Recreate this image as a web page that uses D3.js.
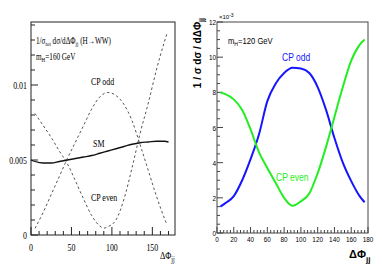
<!DOCTYPE html>
<html>
<head>
<meta charset="utf-8">
<script src="https://cdn.jsdelivr.net/npm/d3@7"></script>
<style>
  body { margin: 0; background: #fff; }
  svg { display: block; }
  .serif { font-family: "Liberation Serif", "DejaVu Serif", serif; }
  .sans { font-family: "Liberation Sans", Arial, sans-serif; }
</style>
</head>
<body>
<svg id="plot" width="382" height="273" viewBox="0 0 382 273"></svg>
<script>
// ---- left panel data (units of 1e-3) ----
const leftEvenX = [5, 15, 25, 35, 45, 55, 65, 75, 85, 90, 95, 105, 115, 125, 135, 145, 155, 165, 168];
const leftEvenY = [8.1, 7.3, 6.5, 5.6, 4.75, 3.6, 2.4, 1.3, 0.6, 0.46, 0.55, 1.0, 2.4, 4.5, 6.8, 8.8, 11.0, 12.9, 13.4];
const leftOddX = [5, 15, 25, 35, 45, 55, 65, 75, 85, 95, 105, 115, 125, 135, 145, 155, 165, 168];
const leftOddY = [0.45, 1.5, 2.7, 3.9, 5.1, 6.2, 7.3, 8.4, 9.2, 9.5, 9.3, 8.7, 7.6, 6.0, 4.3, 2.6, 1.1, 0.7];
const leftSmX = [0, 5, 15, 25, 35, 45, 55, 65, 75, 85, 95, 105, 115, 125, 135, 145, 155, 165, 170];
const leftSmY = [5.0, 4.9, 4.8, 4.8, 4.9, 5.0, 5.1, 5.2, 5.3, 5.45, 5.6, 5.75, 5.9, 6.05, 6.15, 6.2, 6.25, 6.25, 6.2];
const leftYTickLabels = [[0, "0"], [0.005, "0.005"], [0.01, "0.01"]];
const leftXTickLabels = [0, 50, 100, 150];

// ---- right panel data (units of 1e-3) ----
const rightX = [4, 10, 20, 30, 40, 50, 60, 70, 80, 90, 100, 110, 120, 130, 140, 150, 160, 170, 176];
const rightOdd = [1.5, 1.7, 2.1, 3.0, 4.2, 5.6, 7.5, 8.5, 9.1, 9.4, 9.35, 9.1, 8.3, 7.0, 5.4, 4.0, 2.95, 2.1, 1.75];
const rightEven = [8.0, 7.9, 7.6, 7.0, 5.9, 4.6, 3.7, 2.85, 2.0, 1.55, 1.8, 2.25, 3.4, 4.9, 6.6, 8.3, 9.8, 10.7, 11.0];
const rightYTicks = [0, 2, 4, 6, 8, 10, 12];
const rightXTicks = [0, 20, 40, 60, 80, 100, 120, 140, 160, 180];

const svg = d3.select("#plot");

// ================= LEFT PANEL =================
const xL = d3.scaleLinear().domain([0, 178]).range([31, 175]);
const yL = d3.scaleLinear().domain([0, 0.0142]).range([235, 22]);

const gL = svg.append("g");
gL.append("rect")
  .attr("x", xL(0)).attr("y", yL(0.0142))
  .attr("width", xL(178) - xL(0)).attr("height", yL(0) - yL(0.0142))
  .attr("fill", "none").attr("stroke", "#222").attr("stroke-width", 1);

// y ticks (inward)
d3.range(0, 0.01401, 0.001).forEach((v, i) => {
  const major = i % 5 === 0;
  gL.append("line")
    .attr("x1", xL(0)).attr("x2", xL(0) + (major ? 7 : 4))
    .attr("y1", yL(v)).attr("y2", yL(v))
    .attr("stroke", "#222");
});
leftYTickLabels.forEach(([v, t]) => {
  gL.append("text").attr("class", "serif")
    .attr("transform", `translate(${xL(0) - 4},${yL(v) + 3.5}) scale(0.72,1)`)
    .attr("text-anchor", "end").attr("font-size", 11).text(t);
});

// x ticks (inward)
d3.range(0, 171, 10).forEach(v => {
  const major = v % 50 === 0;
  gL.append("line")
    .attr("x1", xL(v)).attr("x2", xL(v))
    .attr("y1", yL(0)).attr("y2", yL(0) - (major ? 8 : 4))
    .attr("stroke", "#222");
});
leftXTickLabels.forEach(v => {
  gL.append("text").attr("class", "serif")
    .attr("transform", `translate(${xL(v)},${yL(0) + 16}) scale(0.72,1)`)
    .attr("text-anchor", "middle").attr("font-size", 11).text(v);
});

const lineL = (xs, ys) => d3.line().curve(d3.curveMonotoneX)
  .x((d, i) => xL(xs[i])).y((d, i) => yL(ys[i] * 1e-3))(xs);

gL.append("path").attr("d", lineL(leftEvenX, leftEvenY))
  .attr("fill", "none").attr("stroke", "#555").attr("stroke-width", 1)
  .attr("stroke-dasharray", "2.5,2.5");
gL.append("path").attr("d", lineL(leftOddX, leftOddY))
  .attr("fill", "none").attr("stroke", "#555").attr("stroke-width", 1)
  .attr("stroke-dasharray", "2.5,2.5");
gL.append("path").attr("d", lineL(leftSmX, leftSmY))
  .attr("fill", "none").attr("stroke", "#111").attr("stroke-width", 1.3);

// annotations
const t1 = gL.append("text").attr("class", "serif").attr("font-size", 10)
  .attr("transform", "translate(36,44) scale(0.72,1)");
t1.append("tspan").text("1/σ");
t1.append("tspan").attr("font-size", 7).attr("dy", 2).text("tot");
t1.append("tspan").attr("dy", -2).text(" dσ/dΔΦ");
t1.append("tspan").attr("font-size", 7).attr("dy", 2).text("jj");
t1.append("tspan").attr("dy", -2).text(" (H→WW)");

const t2 = gL.append("text").attr("class", "serif").attr("font-size", 10)
  .attr("transform", "translate(36,60) scale(0.72,1)");
t2.append("tspan").text("m");
t2.append("tspan").attr("font-size", 7).attr("dy", 2).text("H");
t2.append("tspan").attr("dy", -2).text("=160 GeV");

gL.append("text").attr("class", "serif").attr("font-size", 11)
  .attr("transform", "translate(91,85) scale(0.72,1)").text("CP odd");
gL.append("text").attr("class", "serif").attr("font-size", 11)
  .attr("transform", "translate(93,147) scale(0.72,1)").text("SM");
gL.append("text").attr("class", "serif").attr("font-size", 11)
  .attr("transform", "translate(91,201) scale(0.72,1)").text("CP even");

const tx = gL.append("text").attr("class", "serif").attr("font-size", 11)
  .attr("transform", "translate(160,259) scale(0.75,1)");
tx.append("tspan").text("ΔΦ");
tx.append("tspan").attr("font-size", 8).attr("dy", 3).text("jj");

// ================= RIGHT PANEL =================
const xR = d3.scaleLinear().domain([0, 180]).range([217, 368]);
const yR = d3.scaleLinear().domain([0, 12]).range([233, 22]);

const gR = svg.append("g");
gR.append("rect")
  .attr("x", xR(0)).attr("y", yR(12))
  .attr("width", xR(180) - xR(0)).attr("height", yR(0) - yR(12))
  .attr("fill", "none").attr("stroke", "#444").attr("stroke-width", 1);

d3.range(0, 12.01, 0.5).forEach(v => {
  const major = Math.abs(v % 2) < 1e-6;
  gR.append("line")
    .attr("x1", xR(0)).attr("x2", xR(0) + (major ? 6 : 3))
    .attr("y1", yR(v)).attr("y2", yR(v))
    .attr("stroke", "#444");
});
rightYTicks.forEach(v => {
  gR.append("text").attr("class", "sans")
    .attr("transform", `translate(${xR(0) - 1},${yR(v) + 3}) scale(0.8,1)`)
    .attr("text-anchor", "end").attr("font-size", 8).text(v);
});

d3.range(0, 181, 4).forEach(v => {
  const major = v % 20 === 0;
  gR.append("line")
    .attr("x1", xR(v)).attr("x2", xR(v))
    .attr("y1", yR(0)).attr("y2", yR(0) - (major ? 6 : 3))
    .attr("stroke", "#444");
});
rightXTicks.forEach(v => {
  gR.append("text").attr("class", "sans")
    .attr("transform", `translate(${xR(v)},${yR(0) + 9}) scale(0.8,1)`)
    .attr("text-anchor", "middle").attr("font-size", 8).text(v);
});

const lineR = ys => d3.line().curve(d3.curveMonotoneX)
  .x((d, i) => xR(rightX[i])).y((d, i) => yR(ys[i]))(rightX);

gR.append("path").attr("d", lineR(rightOdd))
  .attr("fill", "none").attr("stroke", "#1515ff").attr("stroke-width", 2);
gR.append("path").attr("d", lineR(rightEven))
  .attr("fill", "none").attr("stroke", "#22ee22").attr("stroke-width", 2);

// exponent
const ex = gR.append("text").attr("class", "sans").attr("font-size", 6)
  .attr("x", 219).attr("y", 19);
ex.append("tspan").text("×10");
ex.append("tspan").attr("font-size", 5).attr("dy", -2).text("-3");

const m2 = gR.append("text").attr("class", "sans").attr("font-size", 9)
  .attr("transform", "translate(228,44) scale(0.85,1)");
m2.append("tspan").text("m");
m2.append("tspan").attr("font-size", 6).attr("dy", 2).text("H");
m2.append("tspan").attr("dy", -2).text("=120 GeV");

gR.append("text").attr("class", "sans").attr("font-size", 10).attr("fill", "#1515ff")
  .attr("transform", "translate(282,61) scale(0.85,1)").text("CP odd");
gR.append("text").attr("class", "sans").attr("font-size", 10).attr("fill", "#22ee22")
  .attr("transform", "translate(276,181) scale(0.85,1)").text("CP even");

// y title (rotated)
const yt = gR.append("text").attr("class", "sans").attr("font-size", 10)
  .attr("font-weight", "bold").attr("text-anchor", "end")
  .attr("transform", "translate(201,18) rotate(-90)");
yt.append("tspan").text("1 / σ  dσ / dΔΦ");
yt.append("tspan").attr("font-size", 7).attr("dy", 3).text("jj");

const xt = gR.append("text").attr("class", "sans").attr("font-size", 11)
  .attr("font-weight", "bold").attr("transform", "translate(349,258)");
xt.append("tspan").text("ΔΦ");
xt.append("tspan").attr("font-size", 8).attr("dy", 4).text("jj");
</script>
</body>
</html>
